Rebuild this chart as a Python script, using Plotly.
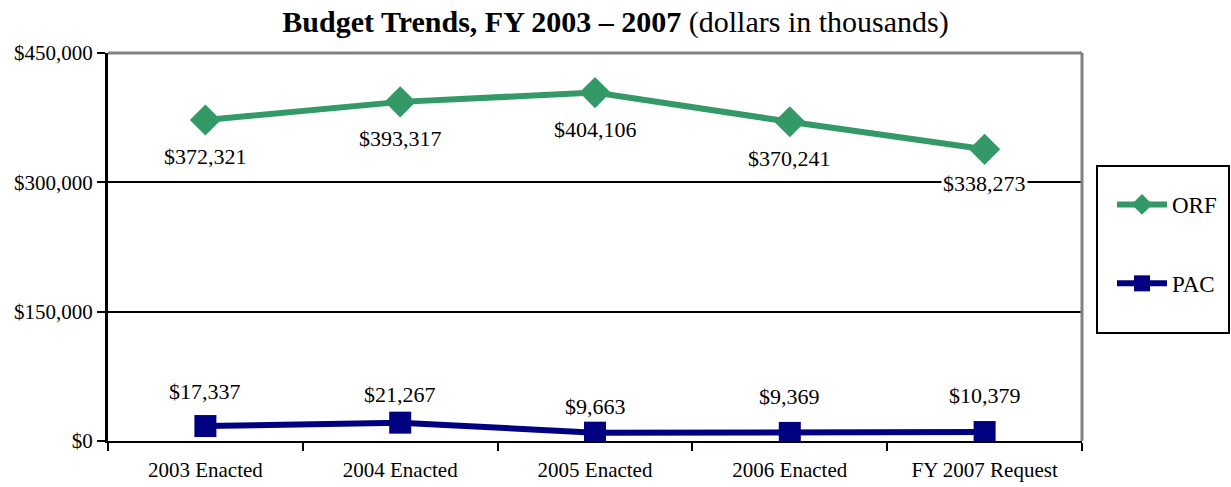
import plotly.graph_objects as go

categories = ["2003 Enacted", "2004 Enacted", "2005 Enacted", "2006 Enacted", "FY 2007 Request"]
orf = [372321, 393317, 404106, 370241, 338273]
pac = [17337, 21267, 9663, 9369, 10379]

GREEN = "#339966"
NAVY = "#000080"
FONT = "Liberation Serif"
W, H = 1231, 487

# vertical label offsets (px) relative to each point
orf_shift = [-37, -37, -37, -37, -34]
pac_shift = [35, 28, 26, 36, 37]

fig = go.Figure()
fig.add_trace(go.Scatter(
    x=categories, y=orf, name="ORF", mode="lines+markers",
    line=dict(color=GREEN, width=6),
    marker=dict(symbol="diamond", size=24, color=GREEN),
    legendgroup="orf",
))
fig.add_trace(go.Scatter(
    x=categories, y=pac, name="PAC", mode="lines+markers",
    line=dict(color=NAVY, width=6),
    marker=dict(symbol="square", size=22, color=NAVY),
    legendgroup="pac",
))

annotations = []
for c, v, s in zip(categories, orf, orf_shift):
    annotations.append(dict(
        x=c, y=v, xref="x", yref="y", text=f"${v:,}", showarrow=False,
        yshift=s, font=dict(family=FONT, size=22, color="black"),
        bgcolor="white" if v < 345000 else None,
    ))
for c, v, s in zip(categories, pac, pac_shift):
    annotations.append(dict(
        x=c, y=v, xref="x", yref="y", text=f"${v:,}", showarrow=False,
        yshift=s, font=dict(family=FONT, size=22, color="black"),
    ))

fig.update_layout(
    width=W, height=H,
    margin=dict(l=108, r=149, t=53, b=46),
    paper_bgcolor="white", plot_bgcolor="white",
    font=dict(family=FONT, size=22, color="black"),
    title=dict(
        text="<b>Budget Trends, FY 2003 \u2013 2007</b> (dollars in thousands)",
        x=0.5, xref="container", xanchor="center",
        y=0.955, yref="container", yanchor="middle",
        font=dict(family=FONT, size=30, color="black"),
    ),
    xaxis=dict(
        type="category", range=[-0.5, 4.5], tickson="boundaries",
        ticks="outside", ticklen=8, tickwidth=2, tickcolor="black",
        showline=True, linecolor="black", linewidth=2, showgrid=False,
        tickfont=dict(family=FONT, size=21), ticklabelstandoff=9,
        automargin=False,
    ),
    yaxis=dict(
        range=[0, 450000], dtick=150000, tickprefix="$", tickformat=",",
        ticks="outside", ticklen=8, tickwidth=2, tickcolor="black",
        showline=True, linecolor="black", linewidth=3,
        showgrid=True, gridcolor="black", gridwidth=2, zeroline=False,
        tickfont=dict(family=FONT, size=21), automargin=False,
    ),
    showlegend=True,
    legend=dict(
        x=1112 / W, xanchor="left", y=1 - 183 / H, yanchor="top",
        xref="container", yref="container",
        bgcolor="rgba(0,0,0,0)", borderwidth=0,
        font=dict(family=FONT, size=23, color="black"),
        tracegroupgap=46, traceorder="grouped", itemwidth=50,
    ),
    annotations=annotations,
    shapes=[
        # gray frame on top and right of plot area
        dict(type="line", xref="paper", yref="paper", x0=0, x1=1, y0=1, y1=1,
             line=dict(color="#808080", width=3)),
        dict(type="line", xref="paper", yref="paper", x0=1, x1=1, y0=0, y1=1,
             line=dict(color="#808080", width=3)),
        # legend box
        dict(type="rect", xref="paper", yref="paper",
             x0=(1097 - 108) / 974, x1=(1229 - 108) / 974,
             y0=(441 - 333) / 388, y1=(441 - 166) / 388,
             line=dict(color="black", width=2), fillcolor="rgba(0,0,0,0)"),
    ],
)

fig.write_html("out.html")
